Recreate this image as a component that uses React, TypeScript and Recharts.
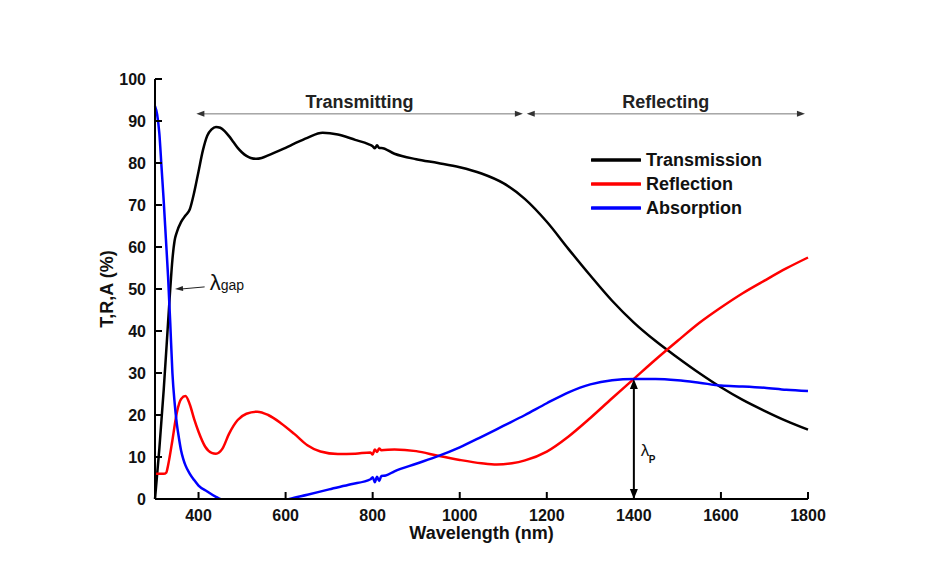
import { LineChart, Line, XAxis, YAxis, ReferenceLine, Legend, Customized } from 'recharts';

const FONT = '"Liberation Sans", Arial, Helvetica, sans-serif';

// [wavelength nm, percent]
const transmission = [
  [300, 0], [310, 12], [320, 26], [330, 42], [335, 50], [340, 57], [345, 61.5], [350, 63.5],
  [360, 66], [370, 67.5], [380, 69], [390, 73], [400, 78], [410, 83], [420, 86.5], [430, 88],
  [440, 88.6], [450, 88.4], [460, 87.6], [470, 86.4], [480, 85], [490, 83.6], [500, 82.5],
  [510, 81.7], [520, 81.2], [533, 81], [545, 81.2], [560, 81.8], [580, 82.7], [600, 83.6],
  [620, 84.6], [650, 86], [685, 87.2], [720, 86.8], [760, 85.5], [790, 84.5],
  [800, 84], [805, 83.5], [810, 84.2], [815, 83.6], [820, 83.6], [850, 82.2], [900, 80.9],
  [950, 80], [1000, 79], [1050, 77.5], [1100, 75.2], [1150, 71.4], [1200, 66], [1250, 59.5],
  [1300, 53.2], [1350, 47.2], [1400, 42], [1450, 37.6], [1500, 33.7], [1550, 30], [1600, 26.6],
  [1650, 23.6], [1700, 21], [1750, 18.6], [1800, 16.5],
];

const reflection = [
  [300, 6], [320, 6], [326, 6.3], [330, 8], [340, 14], [350, 20.5], [360, 23.8], [370, 24.5],
  [380, 22.5], [390, 19], [400, 16], [415, 12.5], [430, 11], [440, 10.8], [455, 12],
  [470, 15.5], [490, 18.8], [510, 20.3], [535, 20.8], [560, 20], [590, 18], [620, 15.5],
  [650, 12.8], [680, 11.3], [720, 10.7], [760, 10.8], [795, 11.1], [800, 10.6], [805, 11.8],
  [810, 11.2], [815, 12], [820, 11.6], [850, 11.8], [900, 11.4], [950, 10.3], [1000, 9.3],
  [1050, 8.5], [1085, 8.2], [1120, 8.5], [1150, 9.2], [1200, 11.3], [1250, 14.9], [1300, 19.3],
  [1350, 24], [1400, 28.6], [1450, 33.2], [1500, 37.6], [1550, 41.9], [1600, 45.6],
  [1650, 49], [1700, 52], [1750, 54.9], [1800, 57.5],
];

const absorption = [
  [300, 93.5], [305, 91.5], [310, 87], [315, 79], [320, 71], [325, 62], [330, 53], [335, 42],
  [340, 30], [345, 23], [350, 18], [355, 14.5], [360, 11.5], [365, 9.5], [370, 8], [380, 6],
  [390, 4.5], [400, 3.2], [420, 1.8], [440, 0.5], [450, 0], [470, -1], [520, -2.5], [570, -1.5],
  [609, 0], [650, 1], [700, 2.3], [750, 3.5], [795, 4.7], [800, 5.2], [805, 4], [810, 5.3],
  [815, 4.3], [820, 5.5], [830, 5.6], [850, 6.6], [900, 8.4], [950, 10.2], [1000, 12.3],
  [1050, 14.8], [1100, 17.4], [1150, 20], [1200, 22.8], [1250, 25.4], [1300, 27.3], [1350, 28.3],
  [1400, 28.6], [1450, 28.6], [1500, 28.3], [1550, 27.7], [1600, 27], [1650, 26.8],
  [1700, 26.5], [1750, 26], [1800, 25.7],
];

const xTicks = [400, 600, 800, 1000, 1200, 1400, 1600, 1800];
const yTicks = [0, 10, 20, 30, 40, 50, 60, 70, 80, 90, 100];

const series = [
  { name: 'Transmission', color: '#000000', data: transmission },
  { name: 'Reflection', color: '#ff0000', data: reflection },
  { name: 'Absorption', color: '#0000ff', data: absorption },
];

const toRows = (pts: number[][]) => pts.map(([wl, v]) => ({ wl, v }));

const tickStyle = { fill: '#111', fontSize: 16, fontWeight: 700, fontFamily: FONT };
const axisStroke = { stroke: '#000', strokeWidth: 2 };

function head(x: number, y: number, dx: number, dy: number, len: number, w: number, fill: string) {
  const n = Math.hypot(dx, dy) || 1;
  const ux = dx / n;
  const uy = dy / n;
  const bx = x - ux * len;
  const by = y - uy * len;
  const pts = `${x},${y} ${bx - uy * w},${by + ux * w} ${bx + uy * w},${by - ux * w}`;
  return <polygon points={pts} fill={fill} />;
}

// horizontal double arrow with a caption above it
const spanShape = (text: string) => (p: any) => {
  const { x1, y1, x2, y2 } = p;
  return (
    <g>
      <line x1={x1 + 5} y1={y1} x2={x2 - 5} y2={y2} stroke="#777" strokeWidth={1} />
      {head(x1, y1, -1, 0, 8, 3, '#333')}
      {head(x2, y2, 1, 0, 8, 3, '#333')}
      <text x={(x1 + x2) / 2} y={y1 - 6} textAnchor="middle" fontSize={18} fontWeight={700}
        fontFamily={FONT} fill="#222">{text}</text>
    </g>
  );
};

const gapShape = (p: any) => {
  const { x1, y1, x2, y2 } = p;
  return (
    <g>
      <line x1={x1} y1={y1} x2={x2 + 6} y2={y2} stroke="#222" strokeWidth={1} />
      {head(x2, y2, x2 - x1, y2 - y1, 8, 2.5, '#222')}
      <text x={x1 + 5} y={y1 + 3} fontFamily={FONT} fill="#111">
        <tspan fontSize={22}>λ</tspan>
        <tspan fontSize={14}>gap</tspan>
      </text>
    </g>
  );
};

const plasmaShape = (p: any) => {
  const { x1, y1, x2, y2 } = p;
  return (
    <g>
      <line x1={x1} y1={y1 - 8} x2={x2} y2={y2 + 8} stroke="#000" strokeWidth={2} />
      {head(x1, y1, 0, 1, 10, 4, '#000')}
      {head(x2, y2, 0, -1, 10, 4, '#000')}
      <text x={x1 + 7} y={y1 - 43} fontSize={17} fontFamily={FONT} fill="#111">λ</text>
      <text x={x1 + 15} y={y1 - 36} fontSize={10} fontWeight={700} fontFamily={FONT} fill="#111">P</text>
    </g>
  );
};

// outer frame of the figure: only its top and left edges fall inside the picture
const Frame = () => (
  <g>
    <rect x={5} y={5} width={927} height={2.5} fill="#111" />
    <rect x={5} y={5} width={2.5} height={576} fill="#111" />
  </g>
);

function LegendBox() {
  return (
    <div style={{ fontFamily: FONT }}>
      {series.map((s) => (
        <div key={s.name} style={{ display: 'flex', alignItems: 'center', height: 24 }}>
          <svg width={50} height={6}>
            <line x1={1} y1={3} x2={49} y2={3} stroke={s.color} strokeWidth={3.5} strokeLinecap="round" />
          </svg>
          <span style={{ fontSize: 18, fontWeight: 700, color: '#111', marginLeft: 5 }}>{s.name}</span>
        </div>
      ))}
    </div>
  );
}

export default function App() {
  return (
    <div style={{ position: 'relative', width: 932, height: 581, margin: -8, overflow: 'hidden', background: '#fff' }}>
      <LineChart width={932} height={581} margin={{ top: 79, right: 124, left: 100, bottom: 0 }}>
        <Customized component={Frame} />
        <XAxis
          dataKey="wl"
          type="number"
          domain={[300, 1800]}
          ticks={xTicks}
          allowDuplicatedCategory={false}
          height={82}
          axisLine={axisStroke}
          tickLine={axisStroke}
          tickSize={-7}
          tickMargin={18}
          tick={tickStyle}
          label={{
            value: 'Wavelength (nm)',
            position: 'insideTop',
            offset: 27,
            style: { fill: '#111', fontSize: 18, fontWeight: 700, fontFamily: FONT },
          }}
        />
        <XAxis
          xAxisId="top"
          orientation="top"
          dataKey="wl"
          type="number"
          domain={[300, 1800]}
          ticks={xTicks}
          height={0}
          axisLine={axisStroke}
          tickLine={axisStroke}
          tickSize={-7}
          tick={false}
        />
        <YAxis
          type="number"
          domain={[0, 100]}
          ticks={yTicks}
          allowDataOverflow
          width={55}
          axisLine={axisStroke}
          tickLine={axisStroke}
          tickSize={-7}
          tickMargin={16}
          tick={tickStyle}
          label={{
            value: 'T,R,A (%)',
            angle: -90,
            position: 'insideLeft',
            offset: 7,
            style: { textAnchor: 'middle', fill: '#111', fontSize: 18, fontWeight: 700, fontFamily: FONT },
          }}
        />
        <YAxis
          yAxisId="right"
          orientation="right"
          type="number"
          domain={[0, 100]}
          ticks={yTicks}
          width={0}
          axisLine={axisStroke}
          tickLine={axisStroke}
          tickSize={-7}
          tick={false}
        />
        {series.map((s) => (
          <Line
            key={s.name}
            data={toRows(s.data)}
            dataKey="v"
            name={s.name}
            type="monotone"
            stroke={s.color}
            strokeWidth={2.5}
            dot={false}
            activeDot={false}
            isAnimationActive={false}
          />
        ))}
        <ReferenceLine segment={[{ x: 395, y: 91.7 }, { x: 1145, y: 91.7 }]} shape={spanShape('Transmitting')} />
        <ReferenceLine segment={[{ x: 1154, y: 91.7 }, { x: 1793, y: 91.7 }]} shape={spanShape('Reflecting')} />
        <ReferenceLine segment={[{ x: 414, y: 50.5 }, { x: 346, y: 50 }]} shape={gapShape} />
        <ReferenceLine segment={[{ x: 1400, y: 0 }, { x: 1400, y: 28.6 }]} shape={plasmaShape} />
        <Legend
          layout="vertical"
          align="center"
          verticalAlign="middle"
          wrapperStyle={{ left: 591, top: 148, width: 220 }}
          content={() => <LegendBox />}
        />
      </LineChart>
    </div>
  );
}
